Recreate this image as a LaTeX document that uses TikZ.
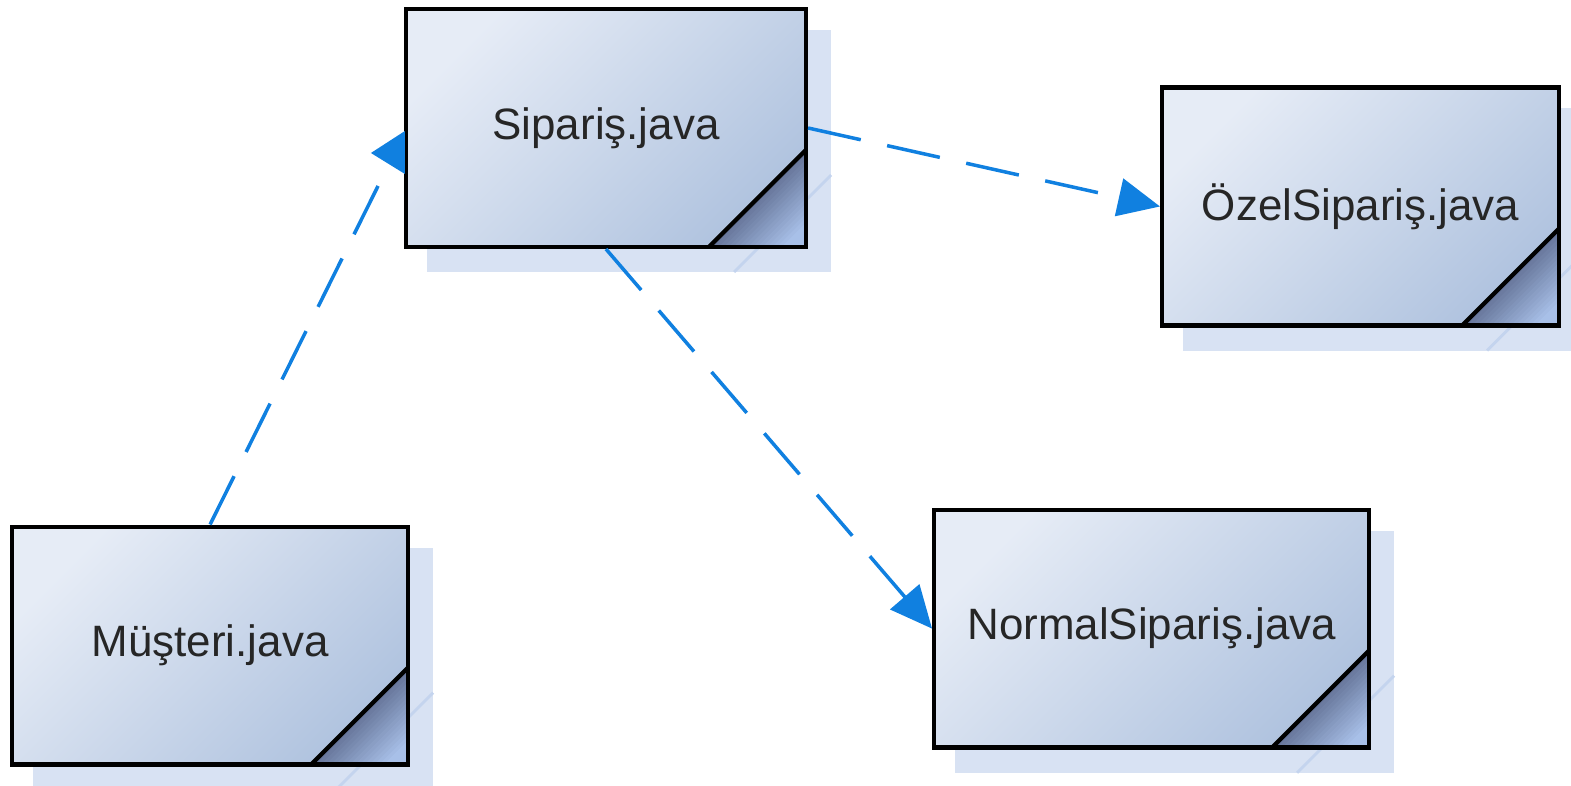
\documentclass[tikz,border=0pt]{standalone}
\usepackage{fontspec}
\setmainfont{Liberation Sans}
\usetikzlibrary{positioning, arrows.meta, backgrounds}

\definecolor{boxlight}{RGB}{230,236,246}
\definecolor{boxdark}{RGB}{176,195,223}
\definecolor{foldlight}{RGB}{168,192,232}
\definecolor{folddark}{RGB}{96,110,146}
\definecolor{shadowblue}{RGB}{216,226,243}
\definecolor{shadowline}{RGB}{196,212,238}
\definecolor{depblue}{RGB}{16,128,224}

\begin{document}
\begin{tikzpicture}[
            x = 0.02cm, y = -0.02cm, % one unit = one pixel of the sketch
            > = {Triangle[length=0.84cm, width=0.76cm]}, % arrow head style
            semithick % line style
        ]

        \tikzstyle{javafile}=[
        draw = black,
        line width = 2.4pt,
        rectangle,
        minimum height = 4.76cm,
        top color = boxlight, bottom color = boxdark, shading angle = 45,
        text = black!85,
        font = \fontsize{25}{30}\selectfont,
        path picture = {
            % folded corner, lighter towards the tip
            \foreach \k in {0,...,19} {
                \pgfmathsetmacro\fs{1.94*(1-\k/20)}
                \pgfmathtruncatemacro\pc{min(100,\k*6+10)}
                \fill[foldlight!\pc!folddark]
                    ([xshift=-\fs cm]path picture bounding box.south east)
                    -- (path picture bounding box.south east)
                    -- ([yshift=\fs cm]path picture bounding box.south east) -- cycle;
            }
            \draw[line width = 2.4pt]
                ([xshift=-1.94cm]path picture bounding box.south east)
                -- ([yshift=1.94cm]path picture bounding box.south east);
        }
        ]
        \tikzstyle{dep}=[
        draw = depblue,
        line width = 2pt,
        dash pattern = on 1.08cm off 0.54cm
        ]

        \useasboundingbox (0,0) rectangle (1571,786);

        \node (sip) [javafile, minimum width = 8cm] at (606,128) {Sipariş.java};
        \node (ozel) [javafile, minimum width = 7.94cm, right = 7.04cm of sip, yshift = -1.57cm] {ÖzelSipariş.java};
        \node (norm) [javafile, minimum width = 8.7cm, below = 3.6cm of ozel, xshift = -4.18cm] {NormalSipariş.java};
        \node (mus) [javafile, minimum width = 7.92cm, left = 10.44cm of norm, yshift = -0.34cm] {Müşteri.java};

        % shadows behind the files
        \begin{scope}[on background layer]
            \foreach \n in {sip, ozel, norm, mus} {
                \fill[shadowblue] ([shift={(23,23)}]\n.north west) rectangle ([shift={(23,23)}]\n.south east);
                \draw[shadowline, line width = 1.6pt] ([shift={(-74,23)}]\n.south east) -- ([shift={(23,-74)}]\n.south east);
            }
        \end{scope}

        \coordinate (sipin) at ([shift={(-14,34)}]sip.west);
        \coordinate (siptip) at ([shift={(-33,25)}]sip.west);

        \draw[dep] (mus.north) -- (sipin);
        \fill[depblue] (siptip) -- ++(34,-22) -- ++(0,43) -- cycle;
        \draw[dep, ->] (sip.east) -- (ozel.west);
        \draw[dep, ->] (sip.south) -- (norm.west);
    \end{tikzpicture}
\end{document}
